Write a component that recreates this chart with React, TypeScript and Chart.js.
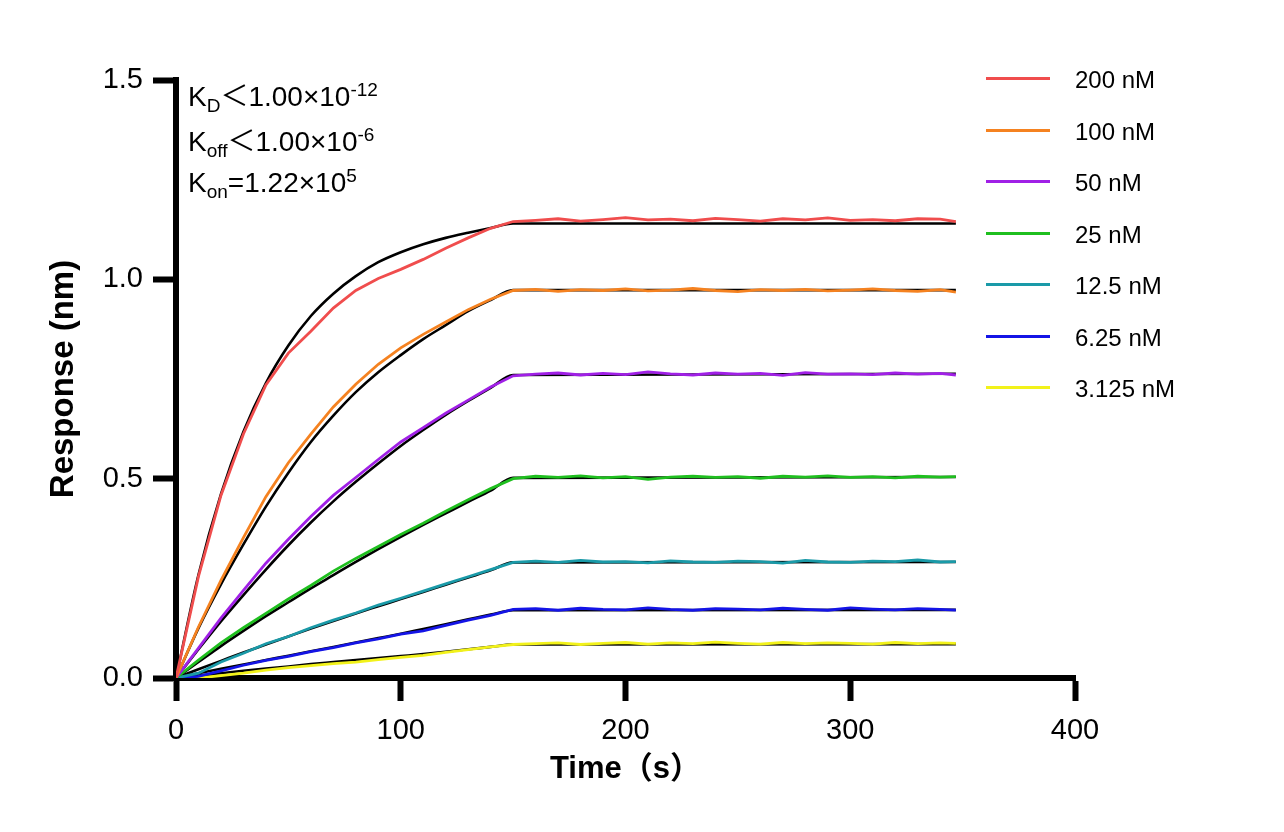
import { useEffect, useRef } from "react";
import { Chart, registerables, type ChartOptions } from "chart.js";

Chart.register(...registerables);

// time points (s) of the measured traces and of the fitted curves
const dataTimes = [
  0, 10, 20, 30, 40, 50, 60, 70, 80, 90, 100, 110, 120, 130, 140, 150,
  160, 170, 180, 190, 200, 210, 220, 230, 240, 250, 260, 270, 280, 290, 300, 310, 320, 330, 340, 347,
];
const fitTimes = [0, 10, 20, 30, 40, 50, 60, 70, 80, 90, 100, 110, 120, 130, 140, 150, 347];

const concLabels = ["200 nM", "100 nM", "50 nM", "25 nM", "12.5 nM", "6.25 nM", "3.125 nM"];
const concColors = ["#f04d4d", "#f58220", "#a020e6", "#1fbf1f", "#1a9aa8", "#1414e6", "#f2f21a"];

// measured responses (nm)
const resp200 = [
  0, 0.255, 0.458, 0.612, 0.735, 0.815, 0.87, 0.928, 0.972, 1.002, 1.025, 1.05, 1.078, 1.104, 1.128, 1.145,
  1.148, 1.152, 1.146, 1.15, 1.155, 1.149, 1.151, 1.147, 1.153, 1.15, 1.146, 1.152, 1.149, 1.154, 1.148, 1.15, 1.147, 1.152, 1.151, 1.145,
];
const resp100 = [
  0, 0.128, 0.245, 0.352, 0.455, 0.54, 0.612, 0.68, 0.737, 0.787, 0.828, 0.862, 0.893, 0.924, 0.95, 0.972,
  0.975, 0.97, 0.974, 0.972, 0.976, 0.971, 0.973, 0.977, 0.972, 0.969, 0.974, 0.972, 0.975, 0.971, 0.973, 0.976, 0.972, 0.97, 0.974, 0.968,
];
const resp50 = [
  0, 0.075, 0.15, 0.22, 0.288, 0.348, 0.405, 0.458, 0.503, 0.548, 0.592, 0.628, 0.664, 0.697, 0.73, 0.758,
  0.762, 0.765, 0.76, 0.764, 0.761, 0.768, 0.763, 0.76, 0.765, 0.762, 0.764, 0.759, 0.766, 0.762, 0.763, 0.761, 0.765, 0.762, 0.764, 0.76,
];
const resp25 = [
  0, 0.045, 0.088, 0.126, 0.162, 0.198, 0.232, 0.268, 0.3, 0.33, 0.36, 0.388, 0.418, 0.447, 0.475, 0.5,
  0.506, 0.503, 0.507, 0.502, 0.505, 0.498, 0.504, 0.506, 0.503, 0.505, 0.501, 0.506, 0.504, 0.507, 0.503, 0.505, 0.502, 0.506, 0.504, 0.505,
];
const resp12 = [
  0, 0.012, 0.04, 0.062, 0.086, 0.104, 0.126, 0.145, 0.163, 0.183, 0.2, 0.218, 0.236, 0.254, 0.272, 0.29,
  0.293, 0.29, 0.295, 0.291, 0.292, 0.289, 0.294, 0.291, 0.29, 0.293, 0.292, 0.288, 0.295, 0.291, 0.29, 0.293, 0.292, 0.296, 0.291, 0.292,
];
const resp6 = [
  0, 0.004, 0.018, 0.032, 0.044, 0.054, 0.066, 0.076, 0.088, 0.098, 0.11, 0.118, 0.132, 0.145, 0.157, 0.172,
  0.174, 0.17, 0.175, 0.172, 0.171, 0.176, 0.172, 0.17, 0.174, 0.173, 0.171, 0.175, 0.172, 0.17, 0.176, 0.173, 0.171, 0.174, 0.172, 0.17,
];
const resp3 = [
  0, 0, 0.006, 0.012, 0.02, 0.026, 0.031, 0.036, 0.04, 0.046, 0.052, 0.057, 0.064, 0.071, 0.078, 0.084,
  0.086, 0.088, 0.084, 0.087, 0.089, 0.085, 0.088, 0.086, 0.09, 0.087, 0.085, 0.089, 0.086, 0.088, 0.087, 0.085, 0.089, 0.086, 0.088, 0.087,
];

// global fit curves (black)
const fit200 = [0, 0.259, 0.461, 0.618, 0.74, 0.834, 0.908, 0.964, 1.008, 1.043, 1.068, 1.088, 1.104, 1.117, 1.129, 1.14, 1.14];
const fit100 = [0, 0.125, 0.235, 0.335, 0.43, 0.515, 0.592, 0.658, 0.717, 0.767, 0.81, 0.85, 0.885, 0.92, 0.948, 0.973, 0.973];
const fit50 = [0, 0.072, 0.142, 0.208, 0.272, 0.333, 0.39, 0.443, 0.492, 0.538, 0.582, 0.622, 0.66, 0.695, 0.728, 0.76, 0.763];
const fit25 = [0, 0.04, 0.08, 0.118, 0.155, 0.19, 0.225, 0.258, 0.291, 0.323, 0.354, 0.384, 0.413, 0.442, 0.47, 0.502, 0.504];
const fit12 = [0, 0.022, 0.043, 0.064, 0.084, 0.104, 0.124, 0.143, 0.162, 0.18, 0.198, 0.216, 0.234, 0.252, 0.27, 0.29, 0.291];
const fit6 = [0, 0.012, 0.023, 0.034, 0.045, 0.056, 0.067, 0.078, 0.089, 0.1, 0.111, 0.123, 0.135, 0.147, 0.159, 0.17, 0.171];
const fit3 = [0, 0.006, 0.012, 0.018, 0.024, 0.029, 0.035, 0.04, 0.045, 0.05, 0.055, 0.06, 0.066, 0.072, 0.078, 0.084, 0.085];

const responses = [resp200, resp100, resp50, resp25, resp12, resp6, resp3];
const fits = [fit200, fit100, fit50, fit25, fit12, fit6, fit3];

const xTicks = [0, 100, 200, 300, 400];
const yTicks = [0, 0.5, 1.0, 1.5];

const FONT = "'Liberation Sans', Arial, 'Noto Sans CJK SC', sans-serif";

const options: ChartOptions<"line"> = {
  responsive: false,
  animation: false,
  layout: { padding: { left: 0, top: 80, right: 209, bottom: 0 } },
  plugins: { legend: { display: false }, tooltip: { enabled: false } },
  elements: { point: { radius: 0 } },
  scales: {
    x: {
      type: "linear",
      min: 0,
      max: 400,
      afterFit: (s) => {
        s.height = 154;
      },
      afterBuildTicks: (s) => {
        s.ticks = xTicks.map((v) => ({ value: v }));
      },
      ticks: { color: "#000", font: { family: FONT, size: 29 }, padding: 13, maxRotation: 0 },
      grid: { drawOnChartArea: false, tickLength: 23, tickWidth: 6, tickColor: "#000" },
      border: { display: true, width: 6, color: "#000" },
      title: {
        display: true,
        text: "Time（s）",
        color: "#000",
        font: { family: FONT, size: 31, weight: "bold" },
        padding: { top: 0, bottom: 44 },
      },
    },
    y: {
      type: "linear",
      min: 0,
      max: 1.5,
      afterFit: (s) => {
        s.width = 176;
      },
      afterBuildTicks: (s) => {
        s.ticks = yTicks.map((v) => ({ value: v }));
      },
      ticks: {
        color: "#000",
        font: { family: FONT, size: 29 },
        padding: 10,
        callback: (v) => Number(v).toFixed(1),
      },
      grid: { drawOnChartArea: false, tickLength: 23, tickWidth: 6, tickColor: "#000" },
      border: { display: true, width: 6, color: "#000" },
      title: {
        display: true,
        text: "Response (nm)",
        color: "#000",
        font: { family: FONT, size: 33, weight: "bold" },
        padding: { top: 44, bottom: 0 },
      },
    },
  },
};

function ResponseChart() {
  const canvasRef = useRef<HTMLCanvasElement>(null);

  useEffect(() => {
    const canvas = canvasRef.current;
    if (!canvas) return;

    const dataSets = responses.map((vals, i) => ({
      label: concLabels[i],
      data: dataTimes.map((t, j) => ({ x: t, y: vals[j] })),
      borderColor: concColors[i],
      borderWidth: 2.8,
      tension: 0,
      order: 0,
    }));
    const fitSets = fits.map((vals, i) => ({
      label: concLabels[i] + " fit",
      data: fitTimes.map((t, j) => ({ x: t, y: vals[j] })),
      borderColor: "#000",
      borderWidth: 2.6,
      cubicInterpolationMode: "monotone" as const,
      order: 1,
    }));

    const chart = new Chart(canvas, {
      type: "line",
      data: { datasets: [...dataSets, ...fitSets] },
      options,
    });

    return () => chart.destroy();
  }, []);

  return <canvas ref={canvasRef} width={1284} height={832} style={{ display: "block" }} />;
}

const subStyle = { fontSize: "0.68em", position: "relative" as const, top: "0.3em", lineHeight: 0 };
const supStyle = { fontSize: "0.68em", position: "relative" as const, top: "-0.55em", lineHeight: 0 };

export default function App() {
  const annoLine = (top: number) => ({
    position: "absolute" as const,
    left: 188,
    top,
    fontSize: 28,
    lineHeight: "28px",
    whiteSpace: "nowrap" as const,
  });

  return (
    <div
      style={{
        position: "absolute",
        left: 0,
        top: 0,
        width: 1284,
        height: 832,
        background: "#fff",
        fontFamily: FONT,
        color: "#000",
      }}
    >
      <ResponseChart />
      <div style={annoLine(83)}>
        K<span style={subStyle}>D</span>＜1.00×10<span style={supStyle}>-12</span>
      </div>
      <div style={annoLine(128)}>
        K<span style={subStyle}>off</span>＜1.00×10<span style={supStyle}>-6</span>
      </div>
      <div style={annoLine(169)}>
        K<span style={subStyle}>on</span>=1.22×10<span style={supStyle}>5</span>
      </div>
      {concLabels.map((label, i) => (
        <div key={label} style={{ position: "absolute", left: 986, top: 78 + i * 51.5 - 15, height: 30, width: 260 }}>
          <div
            style={{
              position: "absolute",
              left: 0,
              top: 14,
              width: 64,
              height: 3,
              background: concColors[i],
            }}
          />
          <div style={{ position: "absolute", left: 89, top: 3, fontSize: 24, lineHeight: "28px", whiteSpace: "nowrap" }}>
            {label}
          </div>
        </div>
      ))}
    </div>
  );
}
